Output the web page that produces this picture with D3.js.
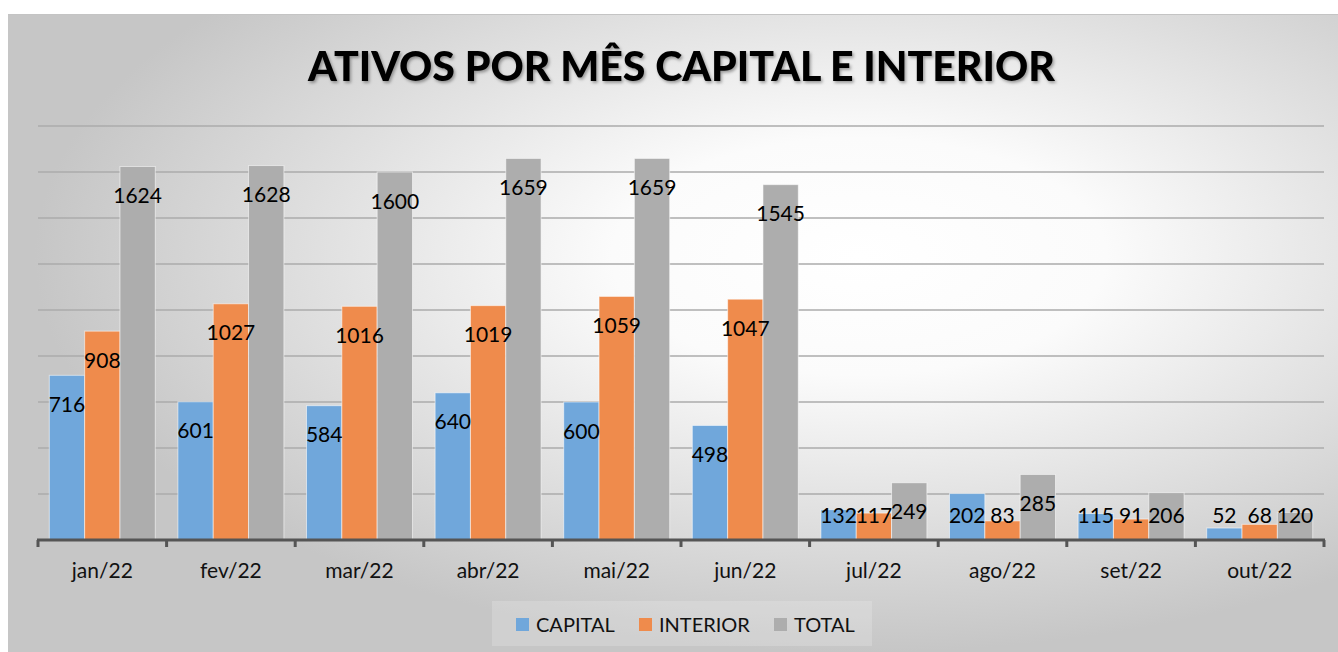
<!DOCTYPE html>
<html>
<head>
<meta charset="utf-8">
<script src="https://cdn.jsdelivr.net/npm/d3@7"></script>
<style>
  html, body { margin: 0; padding: 0; background: #ffffff; }
  svg { display: block; }
  text { font-family: Lato, "Open Sans", sans-serif; }
</style>
</head>
<body>
<svg id="chart" width="1338" height="652"></svg>
<script>
const months = ["jan/22","fev/22","mar/22","abr/22","mai/22","jun/22","jul/22","ago/22","set/22","out/22"];
const series = ["CAPITAL","INTERIOR","TOTAL"];
const capital  = [716, 601, 584, 640, 600, 498, 132, 202, 115, 52];
const interior = [908, 1027, 1016, 1019, 1059, 1047, 117, 83, 91, 68];
const total    = [1624, 1628, 1600, 1659, 1659, 1545, 249, 285, 206, 120];
const gridTicks = [200, 400, 600, 800, 1000, 1200, 1400, 1600, 1800];
const colors = ["#70a7db", "#ef8b4c", "#adadad"];
const titleText = "ATIVOS POR MÊS CAPITAL E INTERIOR";

const valuesBySeries = [capital, interior, total];

const svg = d3.select("#chart");
const defs = svg.append("defs");

const grad = defs.append("radialGradient")
  .attr("id", "bg").attr("cx", 0.64).attr("cy", 0.38).attr("r", 0.62);
grad.append("stop").attr("offset", 0).attr("stop-color", "#ffffff");
grad.append("stop").attr("offset", 0.3).attr("stop-color", "#fbfbfb");
grad.append("stop").attr("offset", 1).attr("stop-color", "#c6c6c6");

const sh = defs.append("filter").attr("id", "tshadow").attr("x", "-5%").attr("y", "-20%").attr("width", "110%").attr("height", "150%");
sh.append("feDropShadow").attr("dx", 1.5).attr("dy", 2).attr("stdDeviation", 1.5).attr("flood-color", "#000").attr("flood-opacity", 0.35);

// panel
svg.append("rect").attr("x", 8).attr("y", 14).attr("width", 1330).attr("height", 638)
  .attr("fill", "url(#bg)");
svg.append("line").attr("x1", 8).attr("x2", 1338).attr("y1", 14.5).attr("y2", 14.5)
  .attr("stroke", "#c4c4c4").attr("stroke-width", 1);

const x = d3.scaleBand().domain(months).range([38, 1324]).paddingInner(0).paddingOuter(0);
const xs = d3.scaleBand().domain(series).range([0, x.bandwidth()]).paddingInner(0).paddingOuter(0.32);
const y = d3.scaleLinear().domain([0, 1800]).range([540, 126]);

// gridlines
svg.append("g").selectAll("line").data(gridTicks).join("line")
  .attr("x1", 38).attr("x2", 1324)
  .attr("y1", d => y(d)).attr("y2", d => y(d))
  .attr("stroke", "#ababab").attr("stroke-width", 1.5);

// bars
const groups = svg.append("g").selectAll("g").data(months).join("g")
  .attr("transform", d => `translate(${x(d)},0)`);

groups.each(function(m, i) {
  const g = d3.select(this);
  series.forEach((s, k) => {
    const v = valuesBySeries[k][i];
    g.append("rect")
      .attr("x", xs(s)).attr("width", xs.bandwidth())
      .attr("y", y(v)).attr("height", y(0) - y(v))
      .attr("fill", colors[k])
      .attr("stroke", "rgba(255,255,255,0.55)").attr("stroke-width", 1);
  });
});

// axis
const axis = d3.axisBottom(x).tickSize(0).tickPadding(0);
const ax = svg.append("g").attr("transform", "translate(0,540)").call(axis);
ax.select(".domain").remove();
ax.selectAll(".tick text").remove();
ax.append("line").attr("x1", 37).attr("x2", 1325).attr("y1", 0).attr("y2", 0)
  .attr("stroke", "#555555").attr("stroke-width", 3);
const bounds = months.map(m => x(m)).concat([x(months[months.length - 1]) + x.bandwidth()]);
ax.selectAll("line.edge").data(bounds).join("line").attr("class", "edge")
  .attr("x1", d => d).attr("x2", d => d).attr("y1", 0).attr("y2", 7)
  .attr("stroke", "#555555").attr("stroke-width", 3);

svg.append("g").selectAll("text").data(months).join("text")
  .attr("x", d => x(d) + x.bandwidth() / 2)
  .attr("y", 578)
  .attr("text-anchor", "middle")
  .attr("font-size", 21)
  .attr("fill", "#111")
  .text(d => d);

// data labels
const labels = [];
months.forEach((m, i) => {
  series.forEach((s, k) => {
    const v = valuesBySeries[k][i];
    labels.push({ cx: x(m) + xs(s) + xs.bandwidth() / 2, cy: Math.min(y(v) + 28, 514), v });
  });
});
svg.append("g").selectAll("text").data(labels).join("text")
  .attr("x", d => d.cx).attr("y", d => d.cy)
  .attr("text-anchor", "middle").attr("dominant-baseline", "central")
  .attr("font-size", 21).attr("fill", "#000")
  .text(d => d.v);

// title
const title = svg.append("text")
  .attr("x", 681.5).attr("y", 81)
  .attr("text-anchor", "middle")
  .attr("font-weight", 900)
  .attr("font-size", 44)
  .attr("fill", "#000")
  .attr("filter", "url(#tshadow)")
  .text(titleText);
const tw = title.node().getComputedTextLength();
title.attr("font-size", 44 * 747 / tw);

// legend
const lg = svg.append("g");
lg.append("rect").attr("x", 492).attr("y", 601).attr("width", 380).attr("height", 45)
  .attr("fill", "rgba(255,255,255,0.18)");
const legendX = [516, 639, 774];
series.forEach((s, k) => {
  lg.append("rect").attr("x", legendX[k]).attr("y", 618).attr("width", 13).attr("height", 13)
    .attr("fill", colors[k]);
  lg.append("text").attr("x", legendX[k] + 20).attr("y", 631.5)
    .attr("font-size", 20).attr("fill", "#111").text(s);
});
</script>
</body>
</html>
